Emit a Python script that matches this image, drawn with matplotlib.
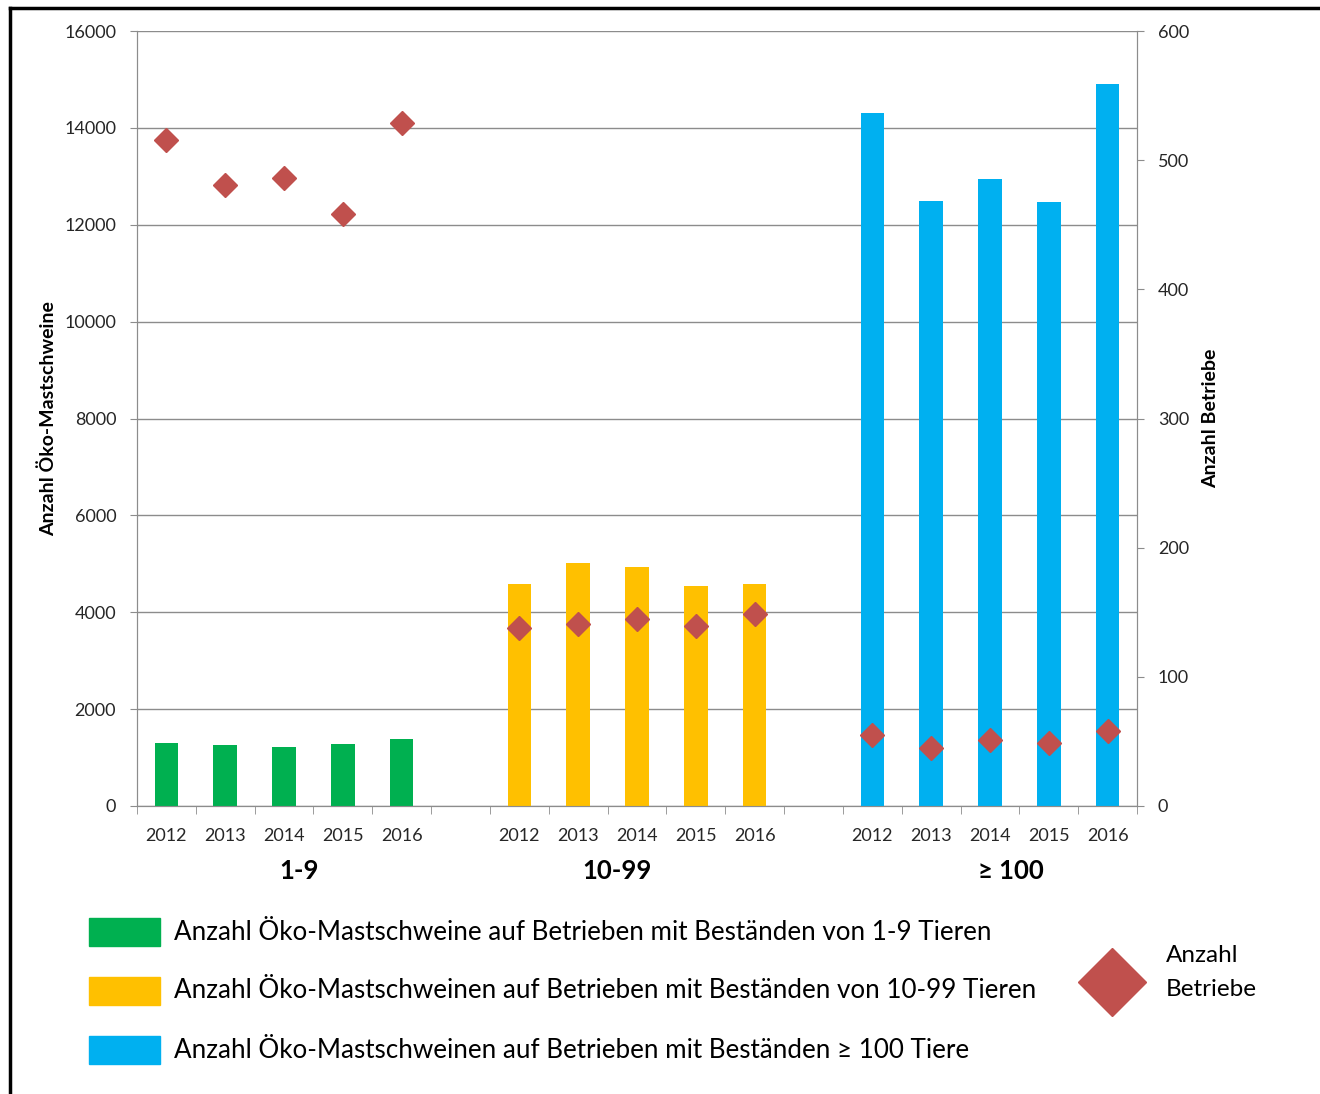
import matplotlib.pyplot as plt
from matplotlib.lines import Line2D
from matplotlib.patches import Rectangle

plt.rcParams["font.family"] = ["Lato", "DejaVu Sans"]

years = ["2012", "2013", "2014", "2015", "2016"]
groups = ["1-9", "10-99", "≥ 100"]
colors = ["#00B050", "#FFC000", "#00B0F0"]
legend_labels = [
    "Anzahl Öko-Mastschweine auf Betrieben mit Beständen von 1-9 Tieren",
    "Anzahl Öko-Mastschweinen auf Betrieben mit Beständen von 10-99 Tieren",
    "Anzahl Öko-Mastschweinen auf Betrieben mit Beständen ≥ 100 Tiere",
]

# pigs per herd size class
schweine_1_9 = [1300, 1260, 1220, 1280, 1385]
schweine_10_99 = [4590, 5020, 4940, 4550, 4590]
schweine_100 = [14300, 12500, 12950, 12480, 14900]

# number of farms per herd size class
betriebe_1_9 = [516, 481, 486, 458, 529]
betriebe_10_99 = [138, 141, 145, 139, 149]
betriebe_100 = [55, 45, 51, 49, 58]

schweine = [schweine_1_9, schweine_10_99, schweine_100]
betriebe = [betriebe_1_9, betriebe_10_99, betriebe_100]

W, H = 1320, 1094
fig = plt.figure(figsize=(W / 100, H / 100), dpi=100)
ax = fig.add_axes([137 / W, 1 - 806 / H, 1000 / W, 775 / H])
ax2 = ax.twinx()

grid_c = "#8c8c8c"
diamond_c = "#C0504D"

positions = []
for g in range(len(groups)):
    xs = [g * 6 + i for i in range(len(years))]
    positions.append(xs)
    ax.bar(xs, schweine[g], width=0.4, color=colors[g], zorder=3)
    ax2.plot(xs, betriebe[g], linestyle="none", marker="D", markersize=12,
             color=diamond_c, zorder=4)

ax.set_xlim(-0.5, 16.5)
ax.set_ylim(0, 16000)
ax.set_yticks(range(0, 16001, 2000))
ax2.set_ylim(0, 600)
ax2.set_yticks(range(0, 601, 100))

ax.grid(axis="y", color=grid_c, linewidth=1, zorder=0)
ax.set_axisbelow(True)

for a in (ax, ax2):
    a.spines["top"].set_visible(False)
    for s in ("left", "right", "bottom"):
        a.spines[s].set_color(grid_c)
    a.tick_params(axis="y", colors=grid_c, labelcolor="#262626", labelsize=13,
                  length=5, pad=10)

ax.set_xticks([x for xs in positions for x in xs])
ax.set_xticklabels(years * len(groups))
ax.set_xticks([x - 0.5 for x in range(18)], minor=True)
ax.tick_params(axis="x", which="major", length=0, labelsize=13, pad=16,
               labelcolor="#262626")
ax.tick_params(axis="x", which="minor", length=6, color=grid_c)

# group labels below the year labels
group_x = [299, 617, 1011]
for gx, name in zip(group_x, groups):
    fig.text(gx / W, 1 - 871 / H, name, ha="center", va="center",
             fontsize=18.5, fontweight="bold")

ax.set_ylabel("Anzahl Öko-Mastschweine", fontsize=14, fontweight="bold")
ax.yaxis.set_label_coords(-0.08, 0.5)
ax2.set_ylabel("Anzahl Betriebe", fontsize=14, fontweight="bold")
ax2.yaxis.set_label_coords(1.065, 0.5)

# legend
legend_y = [932, 991, 1050]
for y, c, lab in zip(legend_y, colors, legend_labels):
    fig.patches.append(Rectangle((89 / W, 1 - (y + 14) / H), 71 / W, 28 / H,
                                 transform=fig.transFigure, color=c))
    fig.text(174 / W, 1 - y / H, lab, ha="left", va="center", fontsize=18.7)

fig.add_artist(Line2D([1112 / W], [1 - 982 / H], marker="D", markersize=35,
                      color=diamond_c, transform=fig.transFigure))
fig.text(1166 / W, 1 - 955 / H, "Anzahl", ha="left", va="center", fontsize=17.5)
fig.text(1166 / W, 1 - 990 / H, "Betriebe", ha="left", va="center", fontsize=17.5)

# frame of the original image
fig.add_artist(Line2D([10 / W, 10 / W], [1 - 8 / H, 0], color="black", linewidth=2.5,
                      transform=fig.transFigure))
fig.add_artist(Line2D([10 / W, 1], [1 - 8 / H, 1 - 8 / H], color="black",
                      linewidth=2.5, transform=fig.transFigure))

fig.savefig("out.png", dpi=100)
